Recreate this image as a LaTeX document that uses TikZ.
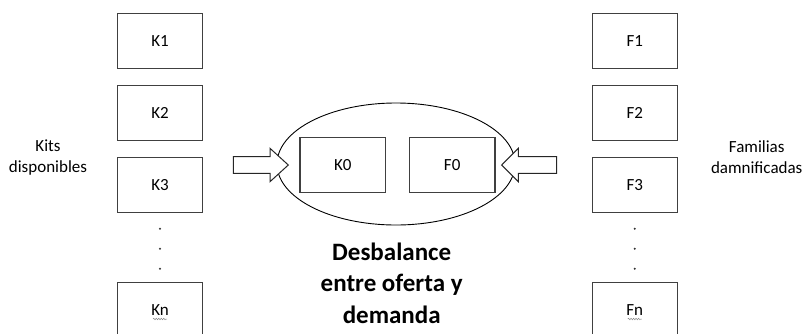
\documentclass[tikz,border=0pt]{standalone}
\usepackage{fontspec}
\setmainfont{Carlito}
\usetikzlibrary{shapes.geometric,decorations.pathmorphing}
\tikzset{
  box/.style={draw=black!75,line width=1.3pt,fill=white,minimum width=85pt,minimum height=55pt,inner sep=0pt,font=\fontsize{17}{19}\selectfont},
  lbl/.style={align=center,font=\fontsize{17}{21}\selectfont},
  blockarrow/.style={draw=black!85,line width=1pt,fill=white,line join=miter},
  dotmark/.style={circle,fill=black!80,inner sep=0pt,minimum size=2.2pt},
  squiggle/.style={draw=black!45,line width=0.5pt,decorate,decoration={snake,amplitude=0.8pt,segment length=2.5pt}}
}
\begin{document}
\begin{tikzpicture}[x=1pt,y=-1pt]
\useasboundingbox (0,0) rectangle (804,333);
% left column
\node[box] (K1) at (160,41.2) {K1};
\node[box] (K2) at (160,113.2) {K2};
\node[box] (K3) at (160,184.8) {K3};
\node[box] (Kn) at (160,310) {Kn};
\node[dotmark] (kd1) at (160,228.7) {};
\node[dotmark] (kd2) at (160,248.7) {};
\node[dotmark] (kd3) at (160,268.7) {};
\node[lbl] (kits) at (48,157.5) {Kits\\disponibles};
% right column
\node[box] (F1) at (634.8,41.2) {F1};
\node[box] (F2) at (634.8,113.2) {F2};
\node[box] (F3) at (634.8,184.8) {F3};
\node[box] (Fn) at (634.8,310) {Fn};
\node[dotmark] (fd1) at (634.8,228.7) {};
\node[dotmark] (fd2) at (634.8,248.7) {};
\node[dotmark] (fd3) at (634.8,268.7) {};
\node[lbl] (fam) at (756.7,157.5) {Familias\\damnificadas};
% squiggles under Kn, Fn
\draw[squiggle] ([xshift=-7pt,yshift=-9pt]Kn.center) -- ([xshift=7pt,yshift=-9pt]Kn.center);
\draw[squiggle] ([xshift=-7pt,yshift=-9pt]Fn.center) -- ([xshift=7pt,yshift=-9pt]Fn.center);
% center ellipse
\node[ellipse,draw=black,line width=0.9pt,minimum width=238pt,minimum height=122pt,inner sep=0pt] (E) at (396,164) {};
\node[box,minimum width=85.7pt] (K0) at (342.8,164.8) {K0};
\node[box,minimum width=85.7pt] (F0) at (452.2,164.8) {F0};
% block arrows
\coordinate (la) at (233.3,165);
\draw[blockarrow] (la) ++(0,-8.3) -- ++(36.7,0) -- ++(0,-8.4) -- ++(18.3,16.7) -- ++(-18.3,16.7) -- ++(0,-8.4) -- ++(-36.7,0) -- cycle;
\coordinate (ra) at (556.7,165);
\draw[blockarrow] (ra) ++(0,-8.3) -- ++(-38.4,0) -- ++(0,-8.4) -- ++(-16.6,16.7) -- ++(16.6,16.7) -- ++(0,-8.4) -- ++(38.4,0) -- cycle;
% title
\node[align=center,font=\bfseries\fontsize{25}{31.5}\selectfont] (T) at (391.7,283) {Desbalance\\entre oferta y\\demanda};
\end{tikzpicture}
\end{document}
